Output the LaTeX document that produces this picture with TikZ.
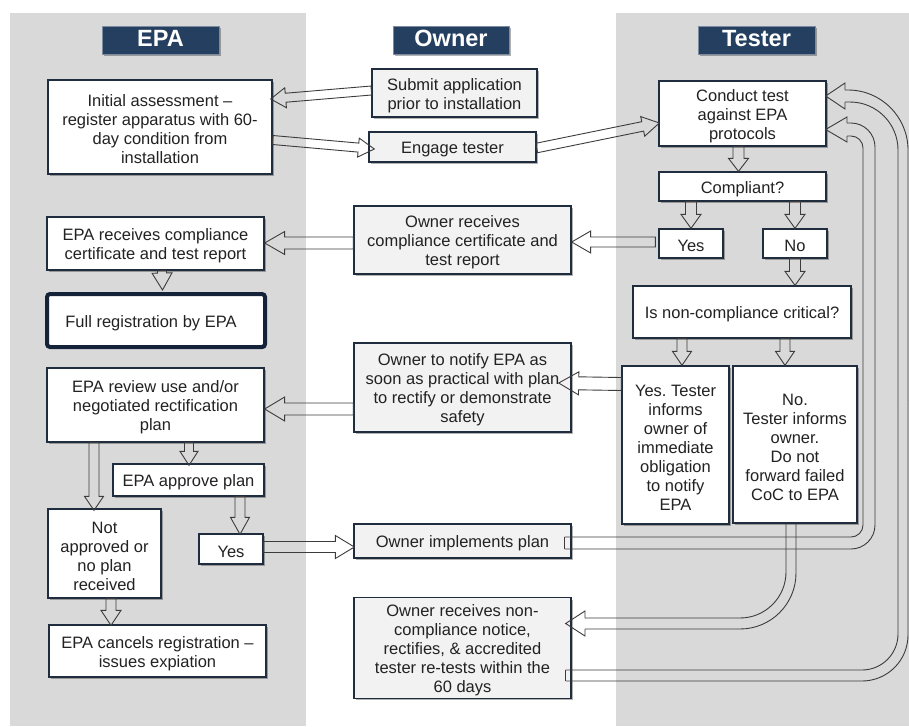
\documentclass[tikz,border=0pt]{standalone}
\usepackage{fontspec}
\setmainfont{Liberation Sans}
\frenchspacing
\usetikzlibrary{calc,shadows}
\definecolor{colgray}{HTML}{D9D9D9}
\definecolor{navy}{HTML}{243F60}
\definecolor{bordc}{HTML}{1F2D3F}
\definecolor{fullc}{HTML}{14233A}
\definecolor{ownfill}{HTML}{F2F2F2}
\definecolor{arrc}{HTML}{3C3C3C}
\definecolor{txtc}{HTML}{222222}
\newcommand\fs{\rule{0pt}{17pt}}
\tikzset{
  box/.style={draw=bordc, line width=1.3pt, fill=white, align=center, inner sep=2pt,
    text=txtc, font=\fontsize{16.5}{19}\selectfont\frenchspacing,
    execute at begin node={\rule{0pt}{17pt}},
    drop shadow={shadow xshift=1.5pt, shadow yshift=-1.8pt, opacity=0.3, fill=black}},
  obox/.style={box, fill=ownfill},
  fullbox/.style={box, line width=4pt, draw=fullc, rounded corners=3pt},
  hdr/.style={draw=navy!60!white, line width=0.8pt, fill=navy, text=white,
    font=\fontsize{23.5}{26}\selectfont\bfseries,
    execute at begin node={\rule[-3pt]{0pt}{3pt}},
    drop shadow={shadow xshift=1.5pt, shadow yshift=-1.8pt, opacity=0.3, fill=black}},
  arrline/.style={draw=arrc, line width=0.9pt, line join=miter},
}
% straight block arrow: start, end, half shaft, half head, head length
\newcommand\barr[5]{%
  \coordinate (bA) at #1;
  \coordinate (bB) at #2;
  \coordinate (bH) at ($(bB)!#5!(bA)$);
  \draw[arrline] ($(bA)!#3!90:(bB)$) -- ($(bH)!#3!-90:(bA)$) -- ($(bH)!#4!-90:(bA)$)
    -- (bB) -- ($(bH)!#4!90:(bA)$) -- ($(bH)!#3!90:(bA)$) -- ($(bA)!#3!-90:(bB)$) -- cycle;
}
\begin{document}
\begin{tikzpicture}[x=1pt,y=-1pt]
\useasboundingbox (0,0) rectangle (909,726);
\fill[white] (0,0) rectangle (909,726);
% columns
\fill[colgray] (10,13) rectangle (306,726);
\fill[colgray] (616,13) rectangle (909,726);
% headers
\node[hdr, minimum width=117pt, minimum height=28pt] (hepa) at (160.5,40) {EPA};
\node[hdr, minimum width=116pt, minimum height=28pt] (hown) at (451,40) {Owner};
\node[hdr, minimum width=117pt, minimum height=28pt] (htst) at (756.5,40) {Tester};
% EPA column
\node[box, minimum width=224pt, minimum height=94pt] (init) at (160,127)
  {\fs Initial assessment --\\register apparatus with 60-\\day condition from\\installation};
\node[box, minimum width=217pt, minimum height=53pt] (erec) at (155.5,243.5)
  {\fs EPA receives compliance\\certificate and test report};
\node[fullbox, minimum width=218pt, minimum height=53pt] (full) at (156,320.5)
  {Full registration by EPA\hspace*{10pt}};
\node[box, minimum width=217pt, minimum height=74pt] (erev) at (155.5,405)
  {\fs EPA review use and/or\\negotiated rectification\\plan};
\node[box, minimum width=151pt, minimum height=32pt] (eapp) at (188.5,480) {EPA approve plan};
\node[box, minimum width=113pt, minimum height=89pt] (enot) at (104.5,553.5)
  {\fs Not\\approved or\\no plan\\received};
\node[box, minimum width=64pt, minimum height=30pt] (eyes) at (231,549) {Yes};
\node[box, minimum width=217pt, minimum height=52pt] (ecan) at (157.5,651)
  {\fs EPA cancels registration --\\issues expiation};
% Owner column
\node[obox, minimum width=165pt, minimum height=48pt] (sub) at (454.5,93)
  {\fs Submit application\\prior to installation};
\node[obox, minimum width=167pt, minimum height=30pt] (eng) at (452.5,147) {Engage tester};
\node[obox, minimum width=217pt, minimum height=68pt] (orec) at (462.5,240)
  {\fs Owner receives\\compliance certificate and\\test report};
\node[obox, minimum width=217pt, minimum height=89pt] (onot) at (462.5,387.5)
  {\fs Owner to notify EPA as\\soon as practical with plan\\to rectify or demonstrate\\safety};
\node[obox, minimum width=217pt, minimum height=34pt] (oimp) at (462.5,541) {Owner implements plan};
\node[obox, minimum width=217pt, minimum height=100pt] (orcv) at (462.5,648)
  {\fs Owner receives non-\\compliance notice,\\rectifies, \& accredited\\tester re-tests within the\\60 days};
% Tester column
\node[box, minimum width=167pt, minimum height=65pt] (cond) at (742.5,113.5)
  {\fs Conduct test\\against EPA\\protocols};
\node[box, minimum width=167pt, minimum height=29pt] (comp) at (742.5,186.5) {Compliant?};
\node[box, minimum width=64pt, minimum height=29pt] (tyes) at (691,243.5) {Yes};
\node[box, minimum width=64pt, minimum height=29pt] (tno) at (795,243.5) {No};
\node[box, minimum width=218pt, minimum height=52pt] (crit) at (742,312) {Is non-compliance critical?};
\node[box, minimum width=107pt, minimum height=158pt] (tyes2) at (675.5,445)
  {\fs Yes. Tester\\informs\\owner of\\immediate\\obligation\\to notify\\EPA};
\node[box, minimum width=124pt, minimum height=157pt] (tno2) at (795,444.5)
  {\fs No.\\Tester informs\\owner.\\Do not\\forward failed\\CoC to EPA};
% straight block arrows
\barr{($(sub.west)+(0,-2.5)$)}{($(init.east)+(-2,-28)$)}{4.5pt}{10pt}{15pt}
\barr{($(init.east)+(0,13)$)}{($(eng.west)+(6,2)$)}{4.5pt}{9.5pt}{16pt}
\barr{($(eng.east)+(0,1)$)}{($(cond.west)+(1,9.5)$)}{4.8pt}{10pt}{17pt}
\barr{($(cond.south)+(-4,0)$)}{($(comp.north)+(-4,0)$)}{5.5pt}{10pt}{13pt}
\barr{(tyes.north |- comp.south)}{(tyes.north)}{5.5pt}{10pt}{14pt}
\barr{(tno.north |- comp.south)}{(tno.north)}{5.5pt}{10pt}{14pt}
\barr{(tno.south)}{(tno.south |- crit.north)}{5.5pt}{10pt}{14pt}
\barr{($(tyes.west)+(-3,-1.5)$)}{($(orec.east)+(0,2)$)}{5pt}{11pt}{19pt}
\barr{($(orec.west)+(0,3)$)}{($(erec.east)+(0,-0.5)$)}{6pt}{11.5pt}{20pt}
\barr{($(erec.south)+(6.5,0)$)}{($(full.north)+(6.5,-2)$)}{4.5pt}{10pt}{17pt}
\barr{($(crit.south)+(-60,0)$)}{($(tyes2.north)+(6.5,0)$)}{5pt}{9.5pt}{14pt}
\barr{($(crit.south)+(43,0)$)}{($(tno2.north)+(-10,0)$)}{5pt}{9.5pt}{14pt}
\barr{($(tyes2.west)+(0,-61)$)}{($(onot.east)+(-13,-4.5)$)}{6.5pt}{11.5pt}{20pt}
\barr{($(onot.west)+(0,21.5)$)}{($(erev.east)+(0,4)$)}{6pt}{12pt}{20pt}
\barr{($(erev.south)+(33.5,0)$)}{($(eapp.north)+(0.5,2)$)}{4.5pt}{9pt}{14pt}
\barr{($(erev.south)+(-61.5,0)$)}{($(enot.north)+(-10.5,2)$)}{5pt}{9.5pt}{14pt}
\barr{($(eapp.south)+(51.5,0)$)}{($(eyes.north)+(9,1)$)}{5pt}{9.5pt}{17pt}
\barr{($(enot.south)+(6.5,0)$)}{($(ecan.north)+(-46.5,1)$)}{5pt}{10pt}{15pt}
\barr{($(eyes.east)+(0,-2)$)}{($(oimp.west)+(1,6)$)}{5.5pt}{11.5pt}{19pt}
% loop: Owner implements plan -> Conduct test
\draw[arrline] ($(oimp.east)+(-7,-4)$) -- ($(oimp.east)+(-7,8)$);
\draw[arrline, rounded corners=12pt] ($(oimp.east)+(-7,-4)$) -- (863,537) -- (863,136) -- (847,136);
\draw[arrline, rounded corners=24pt] ($(oimp.east)+(-7,8)$) -- (875,549) -- (875,123) -- (847,123);
\draw[arrline] (847,136) -- (847,142) -- ($(cond.east)+(-1,16)$) -- (847,117) -- (847,123);
% loop: Owner receives non-compliance -> Conduct test
\draw[arrline] ($(orcv.east)+(-6,22)$) -- ($(orcv.east)+(-6,33)$);
\draw[arrline, rounded corners=36pt] ($(orcv.east)+(-6,22)$) -- (898,670) -- (898,400);
\draw[arrline, rounded corners=48pt] (898,400) -- (898,102) -- (845,102);
\draw[arrline, rounded corners=46pt] ($(orcv.east)+(-6,33)$) -- (908,681) -- (908,400);
\draw[arrline, rounded corners=60pt] (908,400) -- (908,90) -- (845,90);
\draw[arrline] (845,102) -- (845,109) -- ($(cond.east)+(-1,-17.5)$) -- (845,83) -- (845,90);
% curve: No. Tester informs owner -> Owner receives non-compliance
\draw[arrline, rounded corners=46pt] ($(tno2.south)+(-9,0)$) -- (786,618) -- (585,618);
\draw[arrline, rounded corners=56pt] ($(tno2.south)+(1,0)$) -- (796,629) -- (585,629);
\draw[arrline] (585,618) -- (585,611) -- ($(orcv.east)+(-6,-24.5)$) -- (585,636) -- (585,629);
\end{tikzpicture}
\end{document}
